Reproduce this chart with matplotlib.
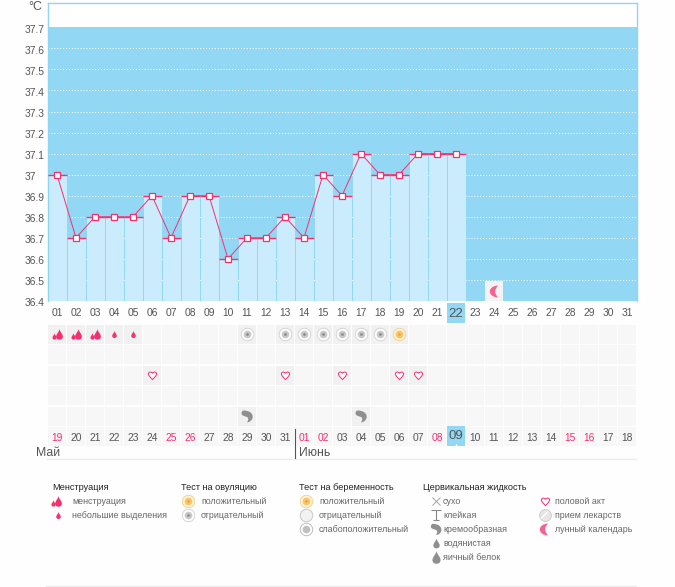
import matplotlib
matplotlib.use('Agg')
import matplotlib.pyplot as plt
from matplotlib.path import Path
from matplotlib.transforms import ScaledTranslation

plt.rcParams['font.family'] = ['Liberation Sans', 'DejaVu Sans']

# ========== Data ==========
cycle_days = [f'{d:02d}' for d in range(1, 32)]
date_labels = ['19', '20', '21', '22', '23', '24', '25', '26', '27', '28', '29', '30', '31',
               '01', '02', '03', '04', '05', '06', '07', '08', '09', '10', '11', '12', '13',
               '14', '15', '16', '17', '18']
red_dates = [1, 7, 8, 14, 15, 21, 28, 29]
temps = [37.0, 36.7, 36.8, 36.8, 36.8, 36.9, 36.7, 36.9, 36.9, 36.6, 36.7, 36.7, 36.8, 36.7,
         37.0, 36.9, 37.1, 37.0, 37.0, 37.1, 37.1, 37.1]
y_ticks = [36.4, 36.5, 36.6, 36.7, 36.8, 36.9, 37.0, 37.1, 37.2, 37.3, 37.4, 37.5, 37.6, 37.7]
y_labels = ['36.4', '36.5', '36.6', '36.7', '36.8', '36.9', '37', '37.1', '37.2', '37.3',
            '37.4', '37.5', '37.6', '37.7']
heavy_days = [1, 2, 3]
light_days = [4, 5]
ovulation_neg_days = [11, 13, 14, 15, 16, 17, 18]
ovulation_pos_days = [19]
sex_days = [6, 13, 16, 19, 20]
creamy_days = [11, 17]
moon_day = 24
today_day = 22

# ========== Colors ==========
SKY = '#92d8f5'
BAR = '#cbecfd'
PINK = '#f5306e'
TEXT = '#555555'
CELL = '#f8f7f8'
CELL_ON = '#f1f1f2'
GRAY = '#8f8f8f'

# ========== Icon shapes ==========
C4 = Path.CURVE4
M, L, Z = Path.MOVETO, Path.LINETO, Path.CLOSEPOLY

DROP = Path([(0, 1), (0.15, 0.45), (0.65, 0.05), (0.65, -0.4), (0.65, -0.85), (0.3, -1), (0, -1),
             (-0.3, -1), (-0.65, -0.85), (-0.65, -0.4), (-0.65, 0.05), (-0.15, 0.45), (0, 1), (0, 1)],
            [M, C4, C4, C4, C4, C4, C4, C4, C4, C4, C4, C4, C4, Z])
HEART = Path([(0, -1), (-0.5, -0.45), (-1, -0.05), (-1, 0.4), (-1, 0.85), (-0.4, 1.05), (0, 0.55),
              (0.4, 1.05), (1, 0.85), (1, 0.4), (1, -0.05), (0.5, -0.45), (0, -1), (0, -1)],
             [M, C4, C4, C4, C4, C4, C4, C4, C4, C4, C4, C4, C4, Z])
MOON = Path([(0.6, 1), (-0.3, 1), (-0.8, 0.5), (-0.8, 0), (-0.8, -0.5), (-0.3, -1), (0.6, -1),
             (0.25, -0.6), (0.1, -0.3), (0.1, 0), (0.1, 0.3), (0.25, 0.6), (0.6, 1), (0.6, 1)],
            [M, C4, C4, C4, C4, C4, C4, C4, C4, C4, C4, C4, C4, Z])
COMMA = Path([(-0.7, 1), (0.2, 1.05), (1, 0.55), (0.85, -0.2), (0.75, -0.7), (0.35, -0.95), (-0.1, -1),
              (0.2, -0.6), (0.2, -0.3), (-0.05, -0.1), (-0.4, 0.05), (-1, 0.1), (-1, 0.5), (-1, 0.8), (-0.85, 1), (-0.7, 1), (-0.7, 1)],
             [M, C4, C4, C4, C4, C4, C4, C4, C4, C4, C4, C4, C4, C4, C4, C4, Z])
STICKY = Path([(-1, 1), (1, 1), (0, 1), (0, -1), (-0.6, -1), (0.6, -1)], [M, L, M, L, M, L])


def heavy_icon(ax, x, y):
    ax.plot(x, y, marker=DROP, ms=7.5, mfc=PINK, mec='none', ls='none')
    off = ScaledTranslation(-5 / 100, -2.5 / 100, ax.figure.dpi_scale_trans)
    ax.plot(x, y, marker=DROP, ms=4.5, mfc=PINK, mec='none', ls='none', transform=ax.transData + off)


def light_icon(ax, x, y):
    ax.plot(x, y, marker=DROP, ms=5, mfc=PINK, mec='none', ls='none')


def test_icon(ax, x, y, outer, inner, ring='white'):
    ax.plot(x, y, marker='o', ms=9, mfc=ring, mec=outer, mew=0.6, ls='none')
    ax.plot(x, y, marker='o', ms=5.5, mfc=inner, mec='none', ls='none')


def neg_icon(ax, x, y):
    test_icon(ax, x, y, '#d0d0d0', '#c8c8c8')
    ax.plot(x, y, marker='o', ms=2, mfc='#8d8d8d', mec='none', ls='none')


def pos_icon(ax, x, y):
    test_icon(ax, x, y, '#f6cf83', '#f6c56a', '#fdf3dc')
    ax.plot(x, y, marker='o', ms=2, mfc='#f9a23a', mec='none', ls='none')


def heart_icon(ax, x, y):
    ax.plot(x, y, marker=HEART, ms=6.2, mfc='white', mec=PINK, mew=0.7, ls='none')


def moon_icon(ax, x, y):
    ax.plot(x, y, marker=MOON, ms=8.5, mfc='#f7628f', mec='none', ls='none')


def comma_icon(ax, x, y, ms=9):
    ax.plot(x, y, marker=COMMA, ms=ms, mfc=GRAY, mec='none', ls='none')


# ========== Figure ==========
W, H = 675, 587
fig = plt.figure(figsize=(W / 100, H / 100), dpi=100, facecolor='#fefefe')


def px_axes(left, top, right, bottom):
    return fig.add_axes([left / W, 1 - bottom / H, (right - left) / W, (bottom - top) / H])


# Temperature chart
ax = px_axes(47.5, 3.3, 636.5, 301)
ax.set_zorder(2)
ax.set_xlim(0, 31)
ax.set_ylim(36.4, 37.814)
ax.set_facecolor('white')
for name, sp in ax.spines.items():
    sp.set_color('#8fd6f3')
    sp.set_linewidth(1)
ax.spines['bottom'].set_visible(False)

ax.axhspan(36.4, 37.7, color=SKY, lw=0, zorder=0)
for val in y_ticks[:-1]:
    ax.axhline(val, color='white', lw=0.7, ls=(0, (1, 2)), zorder=1)

pos = list(range(len(temps)))
ax.bar([p + 1 / 19 for p in pos], [t - 36.4 for t in temps], bottom=36.4, width=18 / 19,
       align='edge', color=BAR, lw=0, zorder=2)
ax.hlines(temps, pos, [p + 1 for p in pos], color=PINK, lw=1, zorder=3)
ax.plot([p + 0.5 for p in pos], temps, color=PINK, lw=0.7, marker='s', ms=4, mfc='white',
        mec=PINK, mew=0.9, zorder=4)

# moon calendar cell sits inside the chart
ax.bar(moon_day - 1 + 0.03, 0.095, bottom=36.4, width=0.94, align='edge', color='#f3f3f3', lw=0, zorder=2)
moon_icon(ax, moon_day - 0.5, 36.447)

ax.set_yticks(y_ticks)
ax.set_yticklabels(y_labels, fontsize=7.4, color=TEXT, ha='left')
ax.tick_params(axis='y', length=0, pad=16.4)
shift = ScaledTranslation(0, -1.5 / 100, fig.dpi_scale_trans)
for lab in ax.get_yticklabels():
    lab.set_transform(lab.get_transform() + shift)
ax.set_xticks([i + 0.5 for i in range(31)])
ax.set_xticklabels(cycle_days, fontsize=7.4, color=TEXT)
ax.tick_params(axis='x', length=0, pad=5)
ax.get_xticklabels()[today_day - 1].set_fontsize(9.5)

# Calendar table
tb = px_axes(47.5, 323.75, 636.5, 446.75)
tb.set_zorder(1)
tb.set_xlim(0, 31)
tb.set_ylim(6, 0)
tb.axis('off')
tb.patch.set_visible(False)

filled = {0: heavy_days + light_days + ovulation_neg_days + ovulation_pos_days,
          2: sex_days, 4: creamy_days}
for r in range(6):
    for c in range(31):
        on = (c + 1) in filled.get(r, [])
        tb.bar(c + 0.5, 19 / 20.5, bottom=r + 0.04, width=18 / 19, color=CELL_ON if on else CELL, lw=0, zorder=1)

for d in heavy_days:
    heavy_icon(tb, d - 0.42, 0.48)
for d in light_days:
    light_icon(tb, d - 0.5, 0.52)
for d in ovulation_neg_days:
    neg_icon(tb, d - 0.5, 0.5)
for d in ovulation_pos_days:
    pos_icon(tb, d - 0.5, 0.5)
for d in sex_days:
    heart_icon(tb, d - 0.5, 2.52)
for d in creamy_days:
    comma_icon(tb, d - 0.5, 4.5)

for i, lab in enumerate(date_labels):
    if i == today_day - 1:
        continue
    tb.text(i + 0.5, 5.55, lab, ha='center', va='center', fontsize=7.4,
            color=PINK if (i + 1) in red_dates else TEXT, zorder=3)

# Highlighted current day in both rows
tb.bar(today_day - 0.5, 0.97, bottom=-1.0, width=18 / 19, color=SKY, lw=0, zorder=0, clip_on=False)
tb.bar(today_day - 0.5, 0.96, bottom=5.0, width=18 / 19, color=SKY, lw=0, zorder=2)
tb.text(today_day - 0.5, 5.5, date_labels[today_day - 1], ha='center', va='center', fontsize=9.5, color=TEXT, zorder=3)
tb.plot(today_day - 0.5, 5.93, marker='^', ms=2.5, mfc='white', mec='none', zorder=3, clip_on=False)

# Overlay in pixels: labels and legend
ov = fig.add_axes([0, 0, 1, 1], zorder=5)
ov.set_xlim(0, W)
ov.set_ylim(H, 0)
ov.axis('off')
ov.patch.set_visible(False)

ov.text(28, 7.5, '°C', fontsize=9, color=TEXT, ha='left', va='center')
ov.plot([47, 636], [458.5, 458.5], color='#ececec', lw=1)
ov.plot([46, 636], [586, 586], color='#ececec', lw=1)
ov.plot([294.5, 294.5], [429, 458], color='#555555', lw=0.8)
ov.text(36, 453.5, 'Май', fontsize=8.8, color=TEXT, ha='left', va='center')
ov.text(299, 453.5, 'Июнь', fontsize=8.8, color=TEXT, ha='left', va='center')

LEG_FS = 6.4
ROW_Y = [501, 515, 529, 543, 557]


def head(x, s):
    ov.text(x, 487, s, fontsize=6.6, color='#222222', ha='left', va='center')


def item(x, row, s):
    ov.text(x, ROW_Y[row], s, fontsize=LEG_FS, color='#666666', ha='left', va='center')


head(52, 'Менструация')
heavy_icon(ov, 58, ROW_Y[0] - 0.5)
light_icon(ov, 57.5, ROW_Y[1])
item(72, 0, 'менструация')
item(72, 1, 'небольшие выделения')

head(181, 'Тест на овуляцию')
pos_icon(ov, 187.5, ROW_Y[0])
neg_icon(ov, 187.5, ROW_Y[1])
item(201, 0, 'положительный')
item(201, 1, 'отрицательный')

head(299, 'Тест на беременность')
pos_icon(ov, 306, ROW_Y[0])
ov.plot(306, ROW_Y[1], marker='o', ms=9, mfc='#f2f2f2', mec='#c8c8c8', mew=0.7, ls='none')
test_icon(ov, 306, ROW_Y[2], '#b5b5b5', '#c0c0c0')
item(319, 0, 'положительный')
item(319, 1, 'отрицательный')
item(319, 2, 'слабоположительный')

head(423, 'Цервикальная жидкость')
ov.plot(435.5, ROW_Y[0], marker='x', ms=5.5, mec='#999999', mew=0.6, ls='none')
ov.plot(435.5, ROW_Y[1], marker=STICKY, ms=7, mfc='none', mec='#888888', mew=0.8, ls='none')
comma_icon(ov, 435.5, ROW_Y[2], ms=8.5)
ov.plot(435.5, ROW_Y[3], marker=DROP, ms=7, mfc=GRAY, mec='none', ls='none')
ov.plot(435.5, ROW_Y[4], marker=DROP, ms=9, mfc=GRAY, mec='none', ls='none')
item(443, 0, 'сухо')
item(443, 1, 'клейкая')
item(443, 2, 'кремообразная')
item(443, 3, 'водянистая')
item(443, 4, 'яичный белок')

heart_icon(ov, 544.5, ROW_Y[0])
ov.plot(544.5, ROW_Y[1], marker='o', ms=8.5, mfc='#e6e6e6', mec='#c8c8c8', mew=0.6, ls='none')
ov.plot([541.5, 547.5], [ROW_Y[1] + 3, ROW_Y[1] - 3], color='white', lw=1)
moon_icon(ov, 544, ROW_Y[2])
item(555, 0, 'половой акт')
item(555, 1, 'прием лекарств')
item(555, 2, 'лунный календарь')

fig.savefig('out.png', dpi=100, facecolor=fig.get_facecolor())
